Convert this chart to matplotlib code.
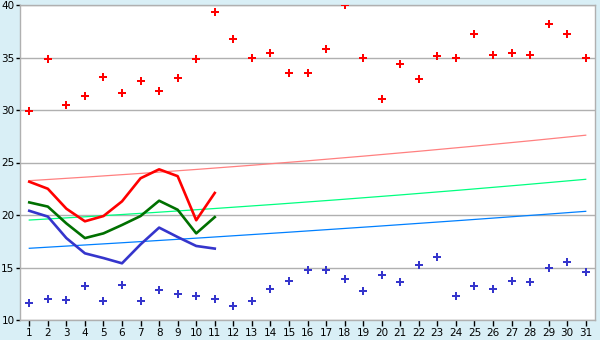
import matplotlib
matplotlib.use('Agg')
import matplotlib.pyplot as plt
import numpy as np

# days of the month
days = list(range(1, 32))
days_short = list(range(1, 12))

# scatter series
high_pts = [29.9, 34.9, 30.5, 31.3, 33.1, 31.6, 32.8, 31.8, 33.05, 34.9,
            39.3, 36.8, 35.0, 35.4, 33.5, 33.5, 35.8, 40.0, 35.0, 31.05,
            34.4, 32.95, 35.1, 34.95, 37.2, 35.2, 35.4, 35.2, 38.2, 37.2, 35.0]
low_pts = [11.6, 11.97, 11.9, 13.2, 11.8, 13.3, 11.8, 12.9, 12.5, 12.25,
           11.97, 11.3, 11.8, 13.0, 13.7, 14.8, 14.8, 13.9, 12.8, 14.25,
           13.6, 15.2, 15.97, 12.25, 13.2, 13.0, 13.7, 13.6, 15.0, 15.5, 14.55]

# thick lines, first 11 days
red_line = [23.17, 22.5, 20.6, 19.4, 19.9, 21.3, 23.5, 24.35, 23.7, 19.5, 22.1]
green_line = [21.2, 20.8, 19.2, 17.8, 18.25, 19.05, 19.9, 21.36, 20.5, 18.25, 19.8]
blue_line = [20.4, 19.85, 17.8, 16.35, 15.9, 15.4, 17.2, 18.8, 17.9, 17.05, 16.8]

# thin trend lines (points read at day 1, 16, 31)
trend_x = [1, 16, 31]
red_trend = [23.27, 25.16, 27.6]
green_trend = [19.52, 21.24, 23.4]
blue_trend = [16.83, 18.48, 20.35]

bg = '#d9eff6'
grid_c = '#b0b0b0'

fig = plt.figure(figsize=(6, 3.4), dpi=100, facecolor=bg)
ax = fig.add_axes([20/600, 20/340, 575/600, 315/340])
ax.set_facecolor('white')

# smooth-ish trend curves through the read points
xs = np.linspace(1, 31, 200)
for tr, c in [(red_trend, '#ff8080'), (green_trend, '#00ff80'), (blue_trend, '#0080ff')]:
    coef = np.polyfit(trend_x, tr, 2)
    ax.plot(xs, np.polyval(coef, xs), color=c, lw=0.9, zorder=2)

ax.plot(days_short, red_line, color='#ff0000', lw=1.9, zorder=3)
ax.plot(days_short, green_line, color='#007000', lw=1.9, zorder=3)
ax.plot(days_short, blue_line, color='#3535cc', lw=1.9, zorder=3)

ax.plot(days, high_pts, 'P', color='#ff0000', ms=6, mew=0, ls='none', zorder=4)
ax.plot(days, low_pts, 'P', color='#3535cc', ms=6, mew=0, ls='none', zorder=4)

ax.set_xlim(0.5, 31.5)
ax.set_ylim(10, 40)
ax.set_xticks(days)
ax.set_yticks([10, 15, 20, 25, 30, 35, 40])
ax.yaxis.grid(True, color=grid_c, lw=1)
ax.set_axisbelow(True)
for s in ax.spines.values():
    s.set_color(grid_c)
    s.set_linewidth(1)
ax.tick_params(axis='both', colors='#000000', labelsize=7.5, width=1)
ax.tick_params(axis='x', length=4, pad=2)
ax.tick_params(axis='y', length=3, pad=1)

fig.savefig('out.png', dpi=100, facecolor=bg)
